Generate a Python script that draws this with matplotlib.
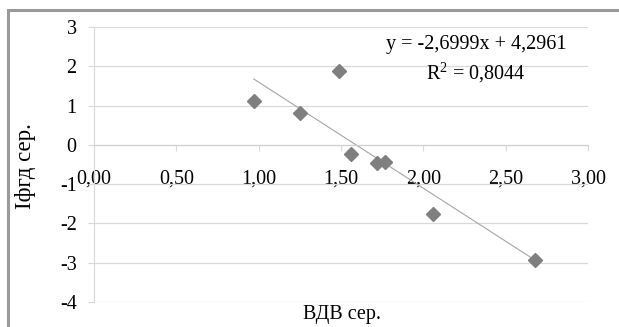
import numpy as np
import matplotlib.pyplot as plt
from matplotlib.patches import Rectangle
from matplotlib.ticker import FuncFormatter

# data
vdv = [0.97, 1.25, 1.487, 1.56, 1.72, 1.765, 2.06, 2.68]
ifgd = [1.11, 0.80, 1.89, -0.23, -0.47, -0.43, -1.75, -2.92]
slope, intercept = -2.6999, 4.2961
r2 = 0.8044

plt.rcParams['font.family'] = ['Liberation Serif', 'DejaVu Serif']
plt.rcParams['axes.unicode_minus'] = False

fig = plt.figure(figsize=(6.19, 3.27), dpi=100)
# outer chart border (cropped on right and bottom)
fig.patches.append(Rectangle((8 / 619, -0.1), 1.2, 1 - 10 / 327 + 0.1,
                             transform=fig.transFigure, fill=False,
                             edgecolor='#9a9a9a', linewidth=2.2))

ax = fig.add_axes([94 / 619, 25 / 327, 494 / 619, 275 / 327])
ax.set_xlim(0, 3)
ax.set_ylim(-4, 3)
ax.set_xticks(np.arange(0, 3.01, 0.5))
ax.set_yticks(range(-4, 4))
ax.xaxis.set_major_formatter(FuncFormatter(lambda v, p: f'{v:.2f}'.replace('.', ',')))
ax.grid(axis='y', color='#d9d9d9', linewidth=0.9)
ax.set_axisbelow(True)

for s in ['top', 'right']:
    ax.spines[s].set_visible(False)
ax.spines['bottom'].set_position(('data', 0))
ax.spines['bottom'].set_color('#d0d0d0')
ax.spines['left'].set_color('#d9d9d9')
ax.tick_params(axis='x', length=4, color='#d9d9d9', labelsize=14.5, pad=14)
ax.tick_params(axis='y', length=4.5, color='#d9d9d9', labelsize=14.5, pad=8)

xs = np.array([min(vdv), max(vdv)])
ax.plot(xs, slope * xs + intercept, color='#a6a6a6', linewidth=0.8, zorder=2)
ax.plot(vdv, ifgd, linestyle='none', marker='D', markersize=7.5,
        color='#7f7f7f', zorder=3)

ax.text(2.32, 2.55, 'y = -2,6999x + 4,2961', fontsize=14.5, ha='center', va='center')
ax.text(2.32, 1.83, r'$\mathregular{R^2}$ = 0,8044', fontsize=14.5, ha='center', va='center')

fig.text(342 / 619, 1 - 314 / 327, 'ВДВ сер.', fontsize=14.5, ha='center', va='center')
fig.text(25 / 619, 1 - 166 / 327, 'Iфгд сер.', fontsize=16.5, rotation=90,
         ha='center', va='center')

fig.savefig('out.png', dpi=100)
